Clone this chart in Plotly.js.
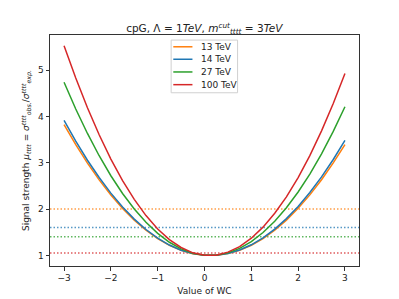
<!DOCTYPE html>
<html><head><meta charset="utf-8">
<script src="https://cdn.plot.ly/plotly-3.0.1.min.js"></script>
<style>html,body{margin:0;padding:0;background:#fff}#c{width:399px;height:299px}</style>
</head><body><div id="c"></div>
<script>
const wc = [-3,-2.75,-2.5,-2.25,-2,-1.75,-1.5,-1.25,-1,-0.75,-0.5,-0.25,0,0.25,0.5,0.75,1,1.25,1.5,1.75,2,2.25,2.5,2.75,3];
const names = ['13 TeV','14 TeV','27 TeV','100 TeV'];
const colors = ['#ff7f0e','#1f77b4','#2ca02c','#d62728'];
const mu13 = [3.826,3.391,2.993,2.630,2.304,2.014,1.761,1.543,1.362,1.217,1.109,1.036,1.0,1.0,1.037,1.109,1.218,1.363,1.545,1.762,2.016,2.306,2.633,2.996,3.394];
const mu14 = [3.916,3.467,3.055,2.681,2.344,2.045,1.783,1.559,1.372,1.223,1.111,1.037,1.0,1.001,1.039,1.115,1.228,1.379,1.567,1.793,2.056,2.357,2.695,3.071,3.484];
const mu27 = [4.738,4.161,3.633,3.152,2.72,2.336,2.001,1.713,1.474,1.283,1.141,1.046,1.0,1.002,1.053,1.151,1.298,1.493,1.737,2.028,2.368,2.756,3.193,3.677,4.21];
const mu100 = [5.53,4.829,4.19,3.604,3.08,2.614,2.21,1.859,1.57,1.339,1.17,1.054,1.0,1.004,1.07,1.189,1.37,1.609,1.91,2.264,2.68,3.154,3.69,4.279,4.93];
const limits = [2.0,1.6,1.4,1.05];
const series = [mu13, mu14, mu27, mu100];

const traces = series.map((s,i)=>({x:wc,y:s,type:'scatter',mode:'lines',name:names[i],
  line:{color:colors[i],width:1.5},showlegend:false,hoverinfo:'skip'}));

const shapes = limits.map((v,i)=>({type:'line',xref:'paper',x0:0,x1:1,yref:'y',y0:v,y1:v,
  line:{color:colors[i],width:1.5,dash:'1.5px,2px'},opacity:0.75,layer:'below'}));
// custom legend
shapes.push({type:'rect',xref:'paper',yref:'paper',x0:0.392,x1:0.607,y0:0.750,y1:0.978,
  line:{color:'#d0d0d0',width:1},fillcolor:'rgba(255,255,255,0.85)'});
const ly = [0.949,0.895,0.840,0.785];
const annotations = [];
names.forEach((n,i)=>{
  shapes.push({type:'line',xref:'paper',yref:'paper',x0:0.399,x1:0.461,y0:ly[i],y1:ly[i],
    line:{color:colors[i],width:1.5}});
  annotations.push({xref:'paper',yref:'paper',x:0.481,y:ly[i],text:n,showarrow:false,
    xanchor:'left',yanchor:'middle',font:{size:9,color:'#222'}});
});

const layout = {
  width:399,height:299,
  margin:{l:50,r:40,t:35,b:33},
  paper_bgcolor:'#fff',plot_bgcolor:'#fff',
  font:{family:'DejaVu Sans, sans-serif',size:9,color:'#222'},
  title:{text:'cpG, Λ = 1<i>TeV</i>, <i>m</i><sup><i>cut</i></sup><sub><i>tttt</i></sub> = 3<i>TeV</i>',
    font:{size:10.5,color:'#222'},x:0.512,xanchor:'center',y:0.905,yanchor:'middle'},
  xaxis:{range:[-3.3,3.3],tickvals:[-3,-2,-1,0,1,2,3],showgrid:false,zeroline:false,
    showline:true,linecolor:'#333',linewidth:1,mirror:true,ticks:'outside',ticklen:3.5,
    tickcolor:'#333',tickfont:{size:9},
    title:{text:'Value of WC',font:{size:9},standoff:5}},
  yaxis:{range:[0.77,5.76],tickvals:[1,2,3,4,5],showgrid:false,zeroline:false,
    showline:true,linecolor:'#333',linewidth:1,mirror:true,ticks:'outside',ticklen:3.5,
    tickcolor:'#333',tickfont:{size:9},
    title:{text:'Signal strength <i>μ</i><sub><i>tttt</i></sub> = <i>σ</i><sup><i>tttt</i></sup><sub><i>obs.</i></sub>/<i>σ</i><sup><i>tttt</i></sup><sub><i>exp.</i></sub>',
      font:{size:9},standoff:6}},
  shapes:shapes,annotations:annotations
};
Plotly.newPlot('c',traces,layout,{staticPlot:true,displayModeBar:false});
</script></body></html>
